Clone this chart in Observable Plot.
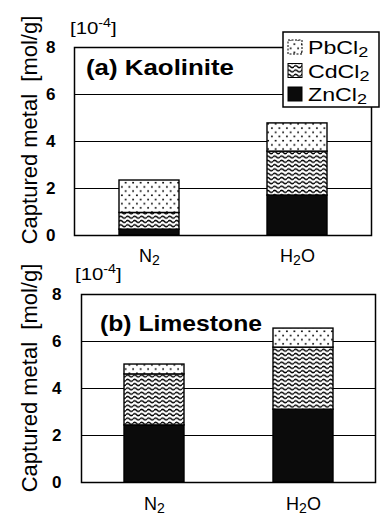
<!DOCTYPE html>
<html><head><meta charset="utf-8">
<script src="https://cdn.jsdelivr.net/npm/d3@7"></script>
<script src="https://cdn.jsdelivr.net/npm/@observablehq/plot@0.6"></script>
<style>
body{margin:0;background:#fff;}
#wrap{position:relative;width:381px;height:524px;overflow:hidden;}
#wrap svg.panel{position:absolute;left:0;}
</style></head><body>
<svg width="0" height="0" style="position:absolute">
<defs>
<pattern id="dots" width="7.5" height="8.4" patternUnits="userSpaceOnUse">
<rect width="7.5" height="8.4" fill="white"/>
<circle cx="1.9" cy="2.1" r="0.95" fill="black"/>
<circle cx="5.65" cy="6.3" r="0.95" fill="black"/>
</pattern>
<pattern id="wave" width="7" height="4.3" patternUnits="userSpaceOnUse">
<rect width="7" height="4.3" fill="white"/>
<path d="M0,2.15 Q1.75,0.1 3.5,2.15 T7,2.15" fill="none" stroke="black" stroke-width="1.55"/>
</pattern>
</defs></svg>
<div id="wrap"></div>
<script>
const conditions = ["N2", "H2O"];
const metals = ["ZnCl2", "CdCl2", "PbCl2"];          // stacking order, bottom to top
const legendOrder = ["PbCl2", "CdCl2", "ZnCl2"];
const yTicks = [0, 2, 4, 6, 8];
const gridLines = [2, 4, 6];
// Captured metal [10^-4 mol/g] for N2, H2O
const kaoliniteZn = [0.25, 1.70];
const kaoliniteCd = [0.71, 1.87];
const kaolinitePb = [1.38, 1.20];
const limestoneZn = [2.43, 3.10];
const limestoneCd = [2.17, 2.64];
const limestonePb = [0.42, 0.81];
const titleA = "(a) Kaolinite";
const titleB = "(b) Limestone";
const yLabel = "Captured metal  [mol/g]";
const unitText = "[10";
const unitExp = "-4";

const FONT = "'Liberation Sans', Arial, Helvetica, sans-serif";
const fills = {ZnCl2: "#0b0b0b", CdCl2: "url(#wave)", PbCl2: "url(#dots)"};

function setSub(sel, str, shift) {
  sel.text(null);
  const parts = str.match(/\d+|\D+/g);
  let down = false;
  parts.forEach(p => {
    const t = sel.append("tspan").text(p);
    if (/\d/.test(p)) { t.attr("font-size", "0.78em").attr("dy", shift); down = true; }
    else if (down) { t.attr("dy", -shift); down = false; }
  });
}

function makePanel(c) {
  const data = [];
  metals.forEach((m, i) => conditions.forEach((cond, j) =>
    data.push({condition: cond, metal: m, value: c.values[i][j]})));
  const H = 262, W = 381;
  const svg = Plot.plot({
    width: W, height: H,
    marginLeft: c.left, marginRight: W - c.right, marginTop: c.top, marginBottom: H - c.bottom,
    style: {background: "transparent", overflow: "visible", fontFamily: FONT, color: "black"},
    x: {domain: conditions, paddingInner: c.pi, paddingOuter: c.po},
    y: {domain: [0, 8]},
    color: {type: "ordinal", domain: metals, range: metals.map(m => fills[m])},
    marks: [
      Plot.ruleY(gridLines, {stroke: "black", strokeWidth: 1.2}),
      Plot.barY(data, {x: "condition", y: "value", fill: "metal", stroke: "black", strokeWidth: 1.4}),
      Plot.frame({stroke: "black", strokeWidth: 1.5}),
      Plot.axisY(yTicks, {tickSize: 0, tickPadding: c.yPad, fontSize: 17, fontWeight: "bold", label: null}),
      Plot.axisX({tickSize: 0, tickPadding: c.xPad, fontSize: 18, label: null})
    ]
  });
  svg.classList.add("panel");
  svg.style.top = c.offset + "px";
  const s = d3.select(svg);
  s.selectAll('g[aria-label="x-axis tick label"] text').each(function() {
    const t = d3.select(this);
    setSub(t, t.text(), 3);
  });
  // y label
  s.append("text").attr("transform", `translate(${c.labelX},${c.labelY}) rotate(-90)`)
    .attr("text-anchor", "middle").attr("font-size", 22).attr("font-family", FONT)
    .style("white-space", "pre").text(yLabel);
  // unit
  const u = s.append("text").attr("transform", `translate(${c.unitX},${c.unitY}) scale(1.2,1)`)
    .attr("font-size", 17).attr("text-anchor", "start").attr("font-family", FONT);
  u.append("tspan").text(unitText);
  u.append("tspan").attr("font-size", "0.7em").attr("dy", -7).text(unitExp);
  u.append("tspan").attr("dy", 7).text("]");
  // title
  s.append("text").attr("x", c.titleX).attr("y", c.titleY).attr("font-size", 22)
    .attr("text-anchor", "start")
    .attr("font-weight", "bold").attr("font-family", FONT)
    .attr("textLength", c.titleLen).attr("lengthAdjust", "spacingAndGlyphs").text(c.title);
  if (c.legend) {
    const L = c.legend;
    const g = s.append("g");
    g.append("rect").attr("x", L.x).attr("y", L.y).attr("width", L.w).attr("height", L.h)
      .attr("fill", "white").attr("stroke", "black").attr("stroke-width", 1.5);
    legendOrder.forEach((m, i) => {
      const cy = L.y + 15 + i * 23.5;
      g.append("rect").attr("x", L.x + 5).attr("y", cy - 7).attr("width", 14).attr("height", 14)
        .attr("fill", fills[m]).attr("stroke", "black").attr("stroke-width", 1)
        .attr("stroke-dasharray", m === "PbCl2" ? "2,1.5" : null);
      const t = g.append("text").attr("transform", `translate(${L.x + 25},${cy + 7}) scale(1.22,1)`)
        .attr("font-size", 19).attr("text-anchor", "start").attr("font-family", FONT);
      setSub(t, m, 3);
    });
  }
  document.getElementById("wrap").appendChild(svg);
}

makePanel({
  values: [kaoliniteZn, kaoliniteCd, kaolinitePb], offset: 0,
  left: 74, right: 371, top: 47, bottom: 235, pi: 0.595, po: 0.30, yPad: 19, xPad: 14,
  title: titleA, titleX: 86, titleY: 75, titleLen: 148,
  labelX: 37, labelY: 130, unitX: 70, unitY: 34,
  legend: {x: 283, y: 32, w: 96, h: 75}
});
makePanel({
  values: [limestoneZn, limestoneCd, limestonePb], offset: 262,
  left: 81, right: 375, top: 32, bottom: 220, pi: 0.599, po: 0.283, yPad: 20, xPad: 15,
  title: titleB, titleX: 100, titleY: 69, titleLen: 162,
  labelX: 37, labelY: 116, unitX: 75, unitY: 18
});
</script>
</body></html>
